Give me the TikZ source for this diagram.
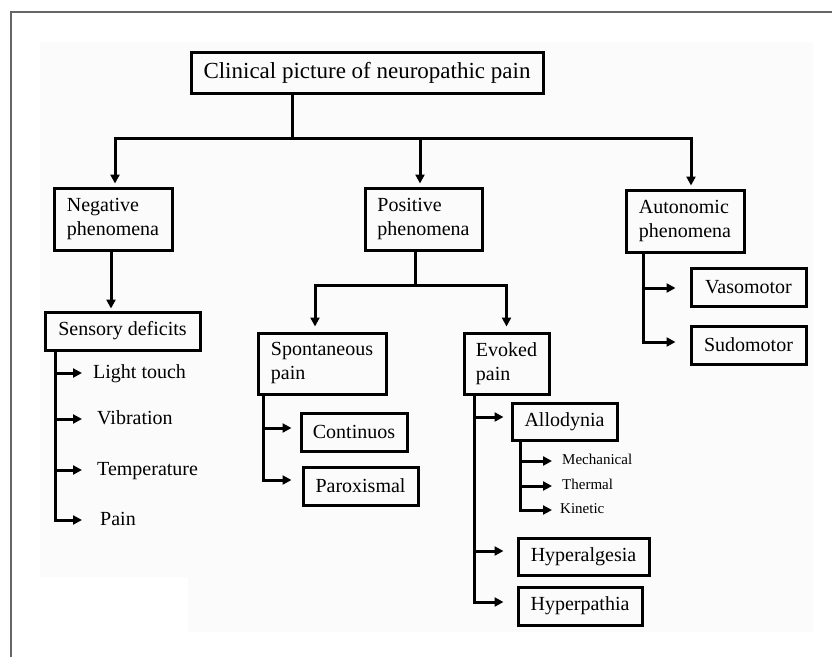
\documentclass[tikz,border=0pt]{standalone}
\usepackage{fontspec}
\setmainfont{Liberation Serif}
\usetikzlibrary{arrows.meta}

\tikzset{
  box/.style={draw, line width=3pt, inner sep=0pt, align=left, font=\fontsize{20}{24}\selectfont},
  item/.style={inner sep=0pt, anchor=west, text height=14pt, text depth=4pt, font=\fontsize{20}{24}\selectfont},
  smallitem/.style={inner sep=0pt, anchor=west, text height=10pt, text depth=3pt, font=\fontsize{15}{18}\selectfont},
  wire/.style={line width=3pt},
  arr/.style={line width=3pt, -{Triangle[length=9pt,width=9pt]}},
  frameline/.style={draw=black!60, line width=1.5pt}
}

\begin{document}
\begin{tikzpicture}[x=1pt, y=-1pt]
\useasboundingbox (0,0) rectangle (832,656);
\fill[black!1.5] (40,42) -- (813,42) -- (813,632) -- (188,632) -- (188,577) -- (40,577) -- cycle; % paper
\draw[frameline] (11,660) -- (11,12) -- (836,12); % frame

\node[box, minimum width=352pt, minimum height=41pt, font=\fontsize{23}{27}\selectfont] (root) at (367,72.5) {Clinical picture of neuropathic pain}; % root
\node[box, minimum width=118pt, minimum height=62pt] (neg) at (113,219) {Negative\\phenomena}; % negative
\node[box, minimum width=117pt, minimum height=62pt] (pos) at (423.5,219) {Positive\\phenomena}; % positive
\node[box, minimum width=118pt, minimum height=62pt] (aut) at (685,221) {Autonomic\\phenomena}; % autonomic
\node[box, minimum width=155pt, minimum height=38pt] (sens) at (122.5,331) {Sensory deficits}; % sensory
\node[box, minimum width=128pt, minimum height=61pt] (spon) at (322,363.5) {Spontaneous\\pain}; % spontaneous
\node[box, minimum width=85pt, minimum height=61pt] (evok) at (506.5,363.5) {Evoked\\pain}; % evoked
\node[box, minimum width=106pt, minimum height=38pt] (cont) at (354,432) {Continuos}; % continuos
\node[box, minimum width=115pt, minimum height=38pt] (parox) at (360.5,486) {Paroxismal}; % paroxismal
\node[box, minimum width=105pt, minimum height=37pt] (allo) at (564.5,421.5) {Allodynia}; % allodynia
\node[box, minimum width=131pt, minimum height=37pt] (hyperal) at (583.5,556.5) {Hyperalgesia}; % hyperalgesia
\node[box, minimum width=124pt, minimum height=38pt] (hyperpa) at (580,606) {Hyperpathia}; % hyperpathia
\node[box, minimum width=115pt, minimum height=38pt] (vaso) at (748.5,287) {Vasomotor}; % vasomotor
\node[box, minimum width=115pt, minimum height=38pt] (sudo) at (748.5,345) {Sudomotor}; % sudomotor

% top level
\coordinate (rootfoot) at (292,138);
\draw[wire] (root.south -| rootfoot) -- (rootfoot);
\draw[arr, shorten >=3pt] (rootfoot) -| ([xshift=2pt]neg.north);
\draw[arr, shorten >=3pt] (rootfoot) -| ([xshift=-3.5pt]pos.north);
\draw[arr, shorten >=3pt] (rootfoot) -| ([xshift=6pt]aut.north);

% negative
\draw[arr, shorten >=2pt] ([xshift=-2pt]neg.south) -- ([xshift=-2pt]neg.south |- sens.north);
\coordinate (sensspine) at ([xshift=12pt]sens.south west);
\foreach \nm/\y/\tx/\gap/\lbl in {light/373/93/11/Light touch, vib/419/97/15/Vibration, temp/470/97/15/Temperature, painsens/520/100/18/Pain}{
  \node[item] (\nm) at (\tx,\y) {\lbl};
  \draw[arr, shorten >=\gap pt] (sensspine) |- (\nm.west);
}

% positive
\coordinate (posfoot) at (415,285);
\draw[wire] (pos.south -| posfoot) -- (posfoot);
\draw[arr, shorten >=5pt] (posfoot) -| ([xshift=-7pt]spon.north);
\draw[arr, shorten >=5pt] (posfoot) -| (evok.north);

\coordinate (sponspine) at ([xshift=7pt]spon.south west);
\draw[arr, shorten >=8pt] (sponspine) |- ([yshift=4pt]cont.west);
\draw[arr, shorten >=10pt] (sponspine) |- ([yshift=6pt]parox.west);

\coordinate (evokspine) at ([xshift=12pt]evok.south west);
\draw[arr, shorten >=7pt] (evokspine) |- ([yshift=4.5pt]allo.west);
\draw[arr, shorten >=13pt] (evokspine) |- ([yshift=5.5pt]hyperal.west);
\draw[arr, shorten >=13pt] (evokspine) |- ([yshift=4pt]hyperpa.west);

\coordinate (allospine) at ([xshift=10pt]allo.south west);
\foreach \nm/\y/\tx/\gap/\lbl in {mech/461/562/10/Mechanical, therm/486/562/10/Thermal, kin/510/560/8/Kinetic}{
  \node[smallitem] (\nm) at (\tx,\y) {\lbl};
  \draw[arr, shorten >=\gap pt] (allospine) |- (\nm.west);
}

% autonomic
\coordinate (autspine) at ([xshift=19pt]aut.south west);
\draw[arr, shorten >=14pt] (autspine) |- ([yshift=-1pt]vaso.west);
\draw[arr, shorten >=14pt] (autspine) |- ([yshift=3pt]sudo.west);
\end{tikzpicture}
\end{document}
